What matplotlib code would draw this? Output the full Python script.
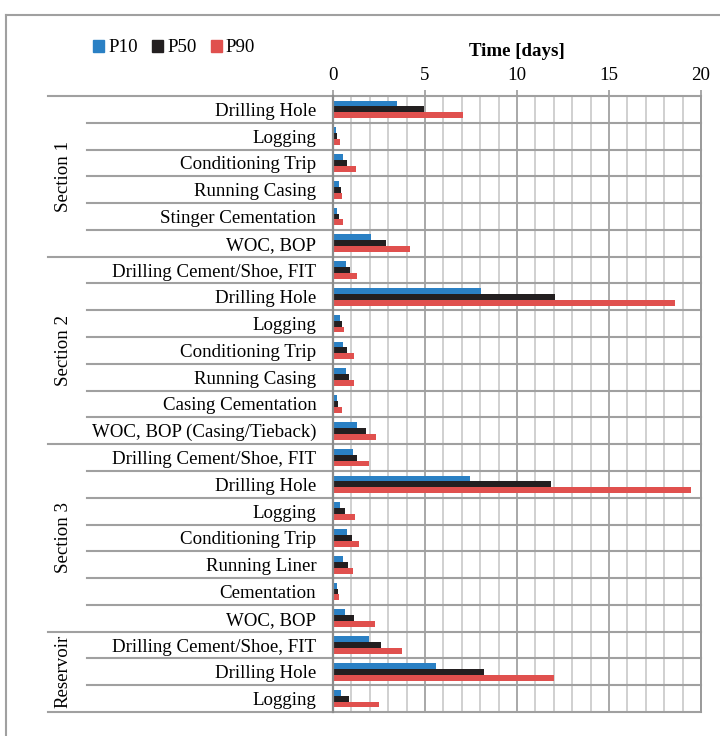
import matplotlib
matplotlib.use("Agg")
import matplotlib.pyplot as plt
import numpy as np
from matplotlib.patches import Patch
from matplotlib.lines import Line2D

plt.rcParams['font.family'] = ['Liberation Serif', 'DejaVu Serif']

# data (days)
activities = ['Drilling Hole', 'Logging', 'Conditioning Trip', 'Running Casing',
              'Stinger Cementation', 'WOC, BOP',
              'Drilling Cement/Shoe, FIT', 'Drilling Hole', 'Logging', 'Conditioning Trip',
              'Running Casing', 'Casing Cementation', 'WOC, BOP (Casing/Tieback)',
              'Drilling Cement/Shoe, FIT', 'Drilling Hole', 'Logging', 'Conditioning Trip',
              'Running Liner', 'Cementation', 'WOC, BOP',
              'Drilling Cement/Shoe, FIT', 'Drilling Hole', 'Logging']
sections = ['Section 1', 'Section 2', 'Section 3', 'Reservoir']
section_sizes = [6, 7, 7, 3]

p10 = [3.46, 0.15, 0.53, 0.34, 0.20, 2.08,
       0.71, 8.04, 0.38, 0.56, 0.68, 0.20, 1.32,
       1.06, 7.42, 0.40, 0.77, 0.56, 0.20, 0.66,
       1.95, 5.61, 0.43]
p50 = [4.92, 0.24, 0.77, 0.41, 0.34, 2.90,
       0.95, 12.09, 0.49, 0.77, 0.85, 0.29, 1.82,
       1.32, 11.87, 0.65, 1.04, 0.80, 0.25, 1.16,
       2.60, 8.22, 0.86]
p90 = [7.08, 0.38, 1.24, 0.47, 0.53, 4.16,
       1.30, 18.60, 0.62, 1.13, 1.13, 0.47, 2.36,
       1.96, 19.47, 1.17, 1.40, 1.10, 0.32, 2.29,
       3.76, 11.99, 2.48]

series = [('P10', p10, '#2a80c4'), ('P50', p50, '#231f20'), ('P90', p90, '#e0504e')]

FS = 13.6

fig = plt.figure(figsize=(7.2, 7.36), dpi=100)
ax = fig.add_axes([333 / 720, 1 - 712 / 736, 368 / 720, 616 / 736])

n = len(activities)
y = np.arange(n)
h = 0.22
for k, (name, vals, col) in enumerate(series):
    ax.barh(y + (k - 1) * h, vals, height=h, color=col, zorder=3)

ax.set_xlim(0, 20)
ax.set_ylim(n - 0.5, -0.5)

# x axis on top
ax.xaxis.tick_top()
ax.xaxis.set_label_position('top')
ax.set_xticks([0, 5, 10, 15, 20])
ax.set_xticks(np.arange(0, 21, 1), minor=True)
ax.tick_params(axis='x', which='major', length=4, width=1.2, color='#9a9a9a',
               labelsize=FS, pad=4.5)
ax.tick_params(axis='x', which='minor', length=0)
ax.set_xlabel('Time [days]', fontsize=FS, fontweight='bold', labelpad=8)

ax.grid(axis='x', which='minor', color='#c8c8c8', lw=1.2, zorder=1)
ax.grid(axis='x', which='major', color='#9a9a9a', lw=1.2, zorder=1)

# category labels
ax.set_yticks(y)
ax.set_yticklabels(activities, fontsize=FS)
ax.tick_params(axis='y', length=0, pad=12)

for s in ['top', 'bottom']:
    ax.spines[s].set_visible(False)
ax.spines['left'].set_color('#8c8c8c')
ax.spines['left'].set_linewidth(1.6)
ax.spines['left'].set_zorder(4)
ax.spines['right'].set_color('#9a9a9a')
ax.spines['right'].set_linewidth(1.4)

# row separators, longer ones at section boundaries
bounds = np.cumsum([0] + section_sizes)
trans = ax.get_yaxis_transform()
for i in range(n + 1):
    x0 = (48 - 333) / 368 if i in bounds else (87 - 333) / 368
    ax.plot([x0, 1], [i - 0.5, i - 0.5], transform=trans, color='#a0a0a0',
            lw=1.5, clip_on=False, zorder=2)

for name, a, b in zip(sections, bounds[:-1], bounds[1:]):
    ax.text((63 - 333) / 368, (a + b - 1) / 2, name, transform=trans,
            rotation=90, ha='center', va='center', fontsize=FS)

# legend
handles = [Patch(color=c, label=nm) for nm, _, c in series]
fig.legend(handles=handles, loc='center left', bbox_to_anchor=(93 / 720, 1 - 48 / 736),
           ncol=3, frameon=False, fontsize=FS, handlelength=0.6, handleheight=0.6,
           handletextpad=0.2, columnspacing=0.75, borderaxespad=0, borderpad=0)

# outer frame (left and top edges visible)
fig.add_artist(Line2D([6 / 720, 6 / 720], [0, 1 - 15 / 736], transform=fig.transFigure,
                      color='#a0a0a0', lw=1.5))
fig.add_artist(Line2D([6 / 720, 1], [1 - 15 / 736, 1 - 15 / 736], transform=fig.transFigure,
                      color='#a0a0a0', lw=1.5))

fig.savefig('out.png', dpi=100)
